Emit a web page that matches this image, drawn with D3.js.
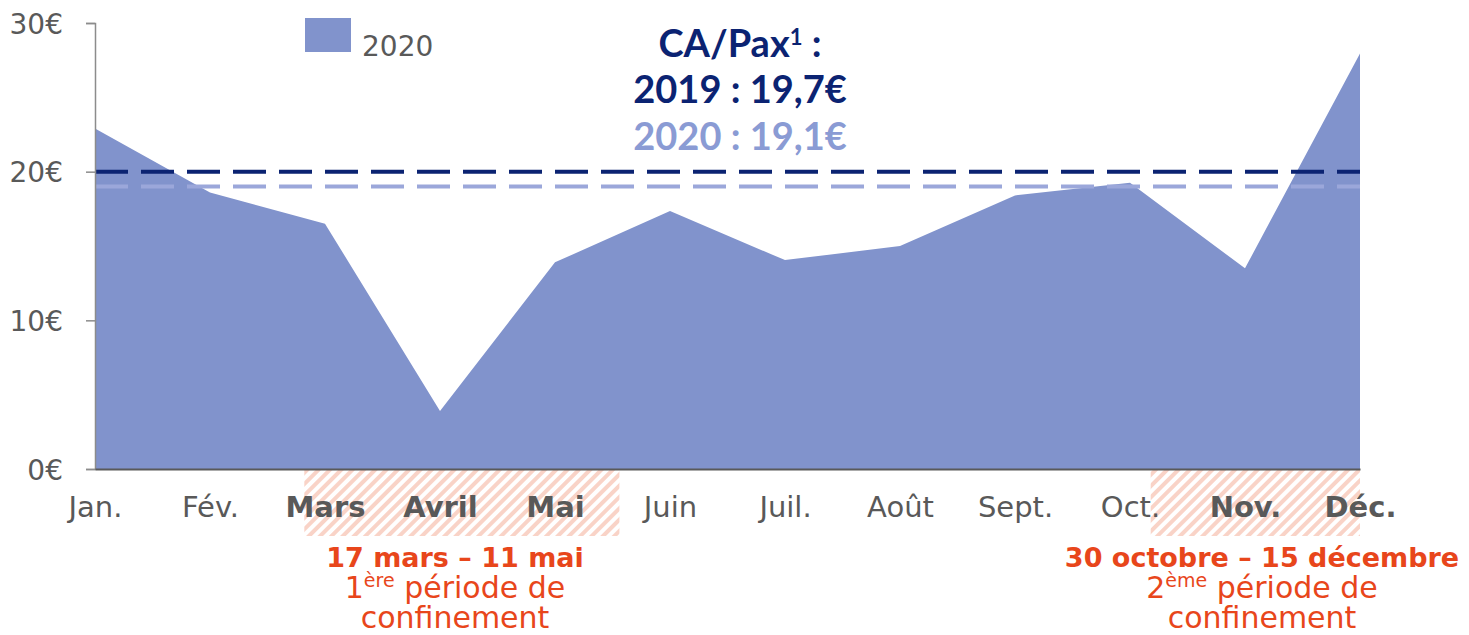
<!DOCTYPE html>
<html>
<head>
<meta charset="utf-8">
<script src="https://cdn.jsdelivr.net/npm/d3@7"></script>
<style>
  body { margin: 0; background: #fff; }
  text { font-family: "DejaVu Sans", "Noto Sans", sans-serif; }
</style>
</head>
<body>
<div id="chart"></div>
<script>
// monthly values (2020, CA/Pax in euros)
var months = ["Jan.", "Fév.", "Mars", "Avril", "Mai", "Juin", "Juil.", "Août", "Sept.", "Oct.", "Nov.", "Déc."];
var values2020 = [22.9, 18.6, 16.5, 3.9, 13.9, 17.35, 14.05, 15.0, 18.4, 19.25, 13.5, 27.95];
var boldMonths = ["Mars", "Avril", "Mai", "Nov.", "Déc."];
var yTicks = [0, 10, 20, 30];
// reference lines (as drawn)
var avg2019 = 20.0;
var avg2020 = 19.0;
// lockdown periods, in month index units
var lockdowns = [[1.82, 4.56], [9.18, 11]];

var svgWidth = 1469;
var svgHeight = 635;

var margin = { top: 23, right: 109, bottom: 166, left: 95 };
var chartWidth = svgWidth - margin.left - margin.right;
var chartHeight = svgHeight - margin.top - margin.bottom;

var svg = d3.select("#chart")
  .append("svg")
  .attr("width", svgWidth)
  .attr("height", svgHeight);

var defs = svg.append("defs");
var pattern = defs.append("pattern")
  .attr("id", "hatch")
  .attr("patternUnits", "userSpaceOnUse")
  .attr("width", 8)
  .attr("height", 8)
  .attr("patternTransform", "rotate(45)");
pattern.append("rect")
  .attr("width", 4)
  .attr("height", 8)
  .attr("fill", "#f9d3c7");

var chartGroup = svg.append("g")
  .attr("transform", `translate(${margin.left}, ${margin.top})`);

var x = d3.scaleLinear()
  .domain([0, months.length - 1])
  .range([0, chartWidth]);

var y = d3.scaleLinear()
  .domain([0, 30])
  .range([chartHeight, 0]);

// hatched lockdown zones under the axis
chartGroup.selectAll("rect.hatch")
  .data(lockdowns)
  .enter()
  .append("rect")
  .attr("class", "hatch")
  .attr("x", d => x(d[0]))
  .attr("y", chartHeight + 1)
  .attr("width", d => x(d[1]) - x(d[0]))
  .attr("height", 66)
  .attr("fill", "url(#hatch)");

// area
var area = d3.area()
  .x((d, i) => x(i))
  .y0(y(0))
  .y1(d => y(d));

chartGroup.append("path")
  .datum(values2020)
  .attr("d", area)
  .attr("fill", "#8193cc");

// dashed averages
chartGroup.append("line")
  .attr("x1", x(0)).attr("x2", x(11))
  .attr("y1", y(avg2020)).attr("y2", y(avg2020))
  .attr("stroke", "#9ba7da")
  .attr("stroke-width", 4)
  .attr("stroke-dasharray", "33,13");

chartGroup.append("line")
  .attr("x1", x(0)).attr("x2", x(11))
  .attr("y1", y(avg2019)).attr("y2", y(avg2019))
  .attr("stroke", "#0b2372")
  .attr("stroke-width", 4)
  .attr("stroke-dasharray", "33,13");

// y axis
var leftAxis = d3.axisLeft(y)
  .tickValues(yTicks)
  .tickSize(9)
  .tickPadding(23)
  .tickFormat(d => d + "€");

var yAxis = chartGroup.append("g").call(leftAxis);
yAxis.select(".domain").attr("stroke", "#8c8c8c").attr("stroke-width", 1.5);
yAxis.selectAll(".tick line").attr("stroke", "#8c8c8c").attr("stroke-width", 1.5);
yAxis.selectAll(".tick text")
  .attr("fill", "#595959")
  .style("font-size", "28px")
  .attr("dy", "0.36em");

// x axis
var bottomAxis = d3.axisBottom(x)
  .tickValues(d3.range(months.length))
  .tickSize(0)
  .tickPadding(27)
  .tickFormat(i => months[i]);

var xAxis = chartGroup.append("g")
  .attr("transform", `translate(0, ${chartHeight})`)
  .call(bottomAxis);
xAxis.select(".domain").attr("stroke", "#595959").attr("stroke-width", 2);
xAxis.selectAll(".tick text")
  .attr("fill", "#595959")
  .style("font-size", "29px")
  .style("font-weight", d => boldMonths.indexOf(months[d]) >= 0 ? "bold" : "normal");

// legend
svg.append("rect")
  .attr("x", 305).attr("y", 18)
  .attr("width", 46).attr("height", 34)
  .attr("fill", "#8193cc");
svg.append("text")
  .attr("x", 362).attr("y", 56)
  .attr("fill", "#595959")
  .style("font-size", "28px")
  .text("2020");

// title block
var title = svg.append("text")
  .attr("text-anchor", "middle")
  .style("font-family", "Lato, sans-serif")
  .style("font-weight", "bold")
  .style("font-size", "38px");
var t1 = title.append("tspan").attr("x", 740).attr("y", 57).attr("fill", "#0b2372");
t1.append("tspan").text("CA/Pax");
t1.append("tspan").attr("dy", -12).style("font-size", "22px").text("1");
t1.append("tspan").attr("dy", 12).text(" :");
title.append("tspan").attr("x", 740).attr("y", 103).attr("fill", "#0b2372").text("2019 : 19,7€");
title.append("tspan").attr("x", 740).attr("y", 150).attr("fill", "#8a9bd4").text("2020 : 19,1€");

// lockdown notes
var notes = [
  { cx: 455, range: "17 mars – 11 mai", ord: "1", sup: "ère" },
  { cx: 1262, range: "30 octobre – 15 décembre", ord: "2", sup: "ème" }
];

notes.forEach(function (n) {
  svg.append("text")
    .attr("text-anchor", "middle")
    .attr("fill", "#e8461b")
    .attr("x", n.cx).attr("y", 567)
    .style("font-weight", "bold").style("font-size", "27px")
    .text(n.range);
  var l2 = svg.append("text")
    .attr("text-anchor", "middle")
    .attr("fill", "#e8461b")
    .attr("x", n.cx).attr("y", 598)
    .style("font-size", "30px");
  l2.append("tspan").text(n.ord);
  l2.append("tspan").attr("dy", -11).style("font-size", "19px").text(n.sup);
  l2.append("tspan").attr("dy", 11).text(" période de");
  svg.append("text")
    .attr("text-anchor", "middle")
    .attr("fill", "#e8461b")
    .attr("x", n.cx).attr("y", 628)
    .style("font-size", "30px")
    .text("confinement");
});
</script>
</body>
</html>
